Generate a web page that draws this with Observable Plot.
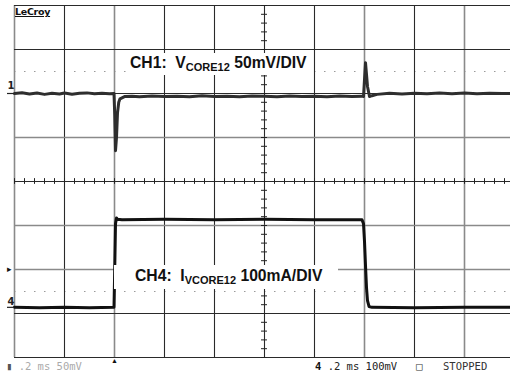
<!DOCTYPE html>
<html>
<head>
<meta charset="utf-8">
<script src="https://cdn.jsdelivr.net/npm/d3@7"></script>
<script src="https://cdn.jsdelivr.net/npm/@observablehq/plot@0.6"></script>
<style>
  html, body { margin: 0; padding: 0; background: #fff; }
  #wrap { position: relative; width: 510px; height: 378px; overflow: hidden; background: #fff; }
  #wrap svg { position: absolute; left: 0; top: 0; }
  .lbl { position: absolute; background: #fff; font-family: "Liberation Sans", Arial, sans-serif; font-weight: bold; font-size: 15.7px; line-height: 18px; color: #111; white-space: nowrap; }
  .lbl .sub { font-size: 11px; position: relative; top: 3px; }
  .logo { position: absolute; left: 15px; top: 6px; font-family: "DejaVu Sans", sans-serif; font-weight: bold; font-size: 9.5px; text-decoration: underline; color: #111; letter-spacing: -0.3px; }
  .status { position: absolute; top: 360px; font-family: "DejaVu Sans Mono", monospace; font-size: 10.5px; line-height: 12px; white-space: pre; }
</style>
</head>
<body>
<div id="wrap"></div>
<script>
// ---- scope settings ----
const timePerDiv = 0.2;          // ms/div
const divisionsX = 10;
const divisionsY = 8;
const ch1Scale = 50;             // mV/div
const ch4Scale = 100;            // mA/div
const ch1Offset = 2.0;           // div, CH1 reference level
const ch4Offset = -2.86;         // div, CH4 reference level
const triggerTime = 0.4;         // ms
const triggerLevel = -1.98;      // div
const refDotLevels = [2.5, -2.5];// div, dotted reference lines

// ---- CH1: V_CORE12 deviation (mV) ----
const ch1Time = [0, 0.03, 0.06, 0.09, 0.12, 0.15, 0.18, 0.2, 0.23, 0.26, 0.29, 0.32, 0.35, 0.38, 0.398,
  0.401, 0.404, 0.408, 0.412, 0.417, 0.422, 0.44, 0.47, 0.5, 0.55, 0.6, 0.65, 0.7, 0.75, 0.8, 0.85, 0.9, 0.95,
  1.0, 1.05, 1.1, 1.15, 1.2, 1.25, 1.3, 1.35, 1.39, 1.396, 1.404, 1.412, 1.42, 1.43, 1.45, 1.5, 1.55, 1.6,
  1.65, 1.7, 1.75, 1.8, 1.85, 1.9, 1.95, 2.0];
const ch1Values = [0, 0.8, -0.6, 0.5, -1.0, 0.3, -0.5, 0.6, -0.8, 0.2, 0.7, -0.4, 0.3, -0.2, 0,
  -25, -65, -50, -22, -10, -6, -3.5, -3.2, -3.8, -2.8, -3.5, -3.0, -3.6, -2.6, -3.4, -3.0, -3.8, -2.9,
  -3.2, -3.6, -2.8, -3.4, -3.1, -3.7, -2.9, -3.3, -3.0, -3.5, 35, 8, -3.5, -2.5, -1.0, 0.2, -0.6, 0.4,
  -0.3, 0.5, -0.2, 0.6, -0.4, 0.3, -0.1, 0.2];

// ---- CH4: I_VCORE12 (mA) ----
const ch4Time = [0, 0.1, 0.2, 0.3, 0.398, 0.401, 0.404, 0.408, 0.412, 0.43, 0.6, 0.8, 1.0, 1.2, 1.39,
  1.396, 1.4, 1.404, 1.408, 1.412, 1.418, 1.43, 1.6, 1.8, 2.0];
const ch4Values = [0, -1, 0, -1, 0, 90, 190, 203, 200, 199, 200, 199, 200, 199, 199,
  190, 150, 95, 45, 15, 2, 0, -1, 0, 0];

const ch1 = ch1Time.map((t, i) => ({t, y: ch1Offset + ch1Values[i] / ch1Scale}));
const ch4 = ch4Time.map((t, i) => ({t, y: ch4Offset + ch4Values[i] / ch4Scale}));

const xMajor = d3.range(0, divisionsX + 1).map(i => i * timePerDiv);
const yMajor = d3.range(-divisionsY / 2, divisionsY / 2 + 1);
const xMinor = d3.range(0, divisionsX * 5 + 1).map(i => i * timePerDiv / 5);
const yMinor = d3.range(0, divisionsY * 5 + 1).map(i => -divisionsY / 2 + i / 5);
const xCenter = divisionsX / 2 * timePerDiv;

const grayX = new Set([0, 2, 7, 9]);
const grayY = new Set([-1, 1, -2]);

const chart = Plot.plot({
  width: 510,
  height: 378,
  marginTop: 0, marginBottom: 0, marginLeft: 0, marginRight: 0,
  style: {background: "transparent", overflow: "visible"},
  x: {domain: [0, divisionsX * timePerDiv], range: [14, 514], axis: null},
  y: {domain: [-divisionsY / 2, divisionsY / 2], range: [357, 5], axis: null},
  marks: [
    Plot.ruleY(refDotLevels, {x1: 0, x2: divisionsX * timePerDiv, stroke: "#9a9a9a", strokeWidth: 1.2, strokeDasharray: "1.5 8.5"}),
    Plot.ruleX(xMajor, {y1: -divisionsY / 2, y2: divisionsY / 2, stroke: (d, i) => grayX.has(i) ? "#8a8a8a" : "#2a2a2a", strokeWidth: (d, i) => grayX.has(i) ? 1.6 : 1.1}),
    Plot.ruleY(yMajor, {x1: 0, x2: divisionsX * timePerDiv, stroke: d => grayY.has(d) ? "#8a8a8a" : "#2a2a2a", strokeWidth: d => grayY.has(d) ? 1.6 : 1.1}),
    Plot.ruleY(yMinor, {x1: xCenter - 0.012, x2: xCenter + 0.012, stroke: "#222", strokeWidth: 1}),
    Plot.ruleX(xMinor, {y1: -0.065, y2: 0.065, stroke: "#222", strokeWidth: 1}),
    Plot.line(ch1, {x: "t", y: "y", stroke: "#2e2e2e", strokeWidth: 3, strokeLinejoin: "round"}),
    Plot.line(ch4, {x: "t", y: "y", stroke: "#111", strokeWidth: 3, strokeLinejoin: "round"}),
    // channel reference markers
    Plot.text([ch1Offset], {y: d => d, frameAnchor: "left", dx: 7, dy: -8, text: () => "1", fontSize: 10, fontWeight: "bold", fill: "#222", fontFamily: "DejaVu Sans"}),
    Plot.ruleY([ch1Offset], {x1: -0.028, x2: 0, stroke: "#222", strokeWidth: 1.2}),
    Plot.text([ch4Offset], {y: d => d, frameAnchor: "left", dx: 7, dy: -6, text: () => "4", fontSize: 10, fontWeight: "bold", fill: "#222", fontFamily: "DejaVu Sans"}),
    Plot.ruleY([ch4Offset], {x1: -0.028, x2: 0, stroke: "#222", strokeWidth: 1.2}),
    Plot.text([triggerLevel], {y: d => d, frameAnchor: "left", dx: 6, text: () => "▸", fontSize: 9, fill: "#111"}),
    Plot.text([triggerTime], {x: d => d, y: -divisionsY / 2, dy: 3, text: () => "▲", fontSize: 7, fill: "#111"})
  ]
});

const wrap = document.getElementById("wrap");
wrap.appendChild(chart);

function addDiv(cls, html, style) {
  const el = document.createElement("div");
  el.className = cls;
  el.innerHTML = html;
  Object.assign(el.style, style);
  wrap.appendChild(el);
}
addDiv("logo", "LeCroy", {});
addDiv("lbl", "CH1:&nbsp; V<span class=\"sub\">CORE12</span> 50mV/DIV", {left: "126px", top: "53px", padding: "1px 5px 2px 4px"});
addDiv("lbl", "CH4:&nbsp; I<span class=\"sub\">VCORE12</span> 100mA/DIV", {left: "114px", top: "265px", padding: "2px 16px 3px 21px"});
addDiv("status", "<span style=\"color:#555\">▮</span> <span style=\"color:#aaa\">.2 ms 50mV</span>", {left: "6px"});
addDiv("status", "<b style=\"color:#111\">4</b> <span style=\"color:#222\">.2 ms 100mV</span>", {left: "315px"});
addDiv("status", "<span style=\"color:#333\">□</span>", {left: "416px"});
addDiv("status", "<span style=\"color:#333\">STOPPED</span>", {left: "443px"});
</script>
</body>
</html>
